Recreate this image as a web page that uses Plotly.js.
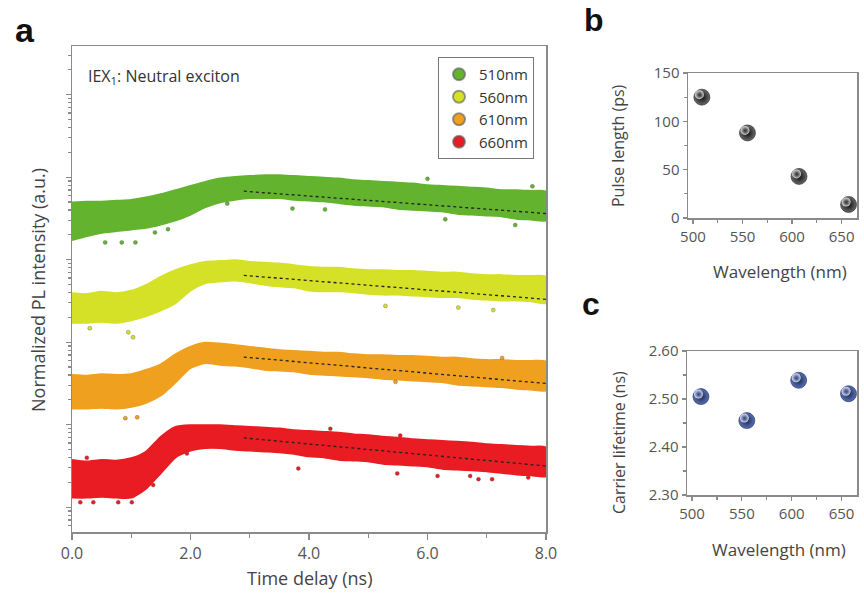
<!DOCTYPE html>
<html><head><meta charset="utf-8">
<script src="https://cdn.plot.ly/plotly-3.0.1.min.js"></script>
<style>html,body{margin:0;padding:0;background:#fff}#chart{width:864px;height:596px}</style>
</head><body><div id="chart"></div>
<script>
// ---------- Panel a data (log10 of normalized PL intensity) ----------
const timeNs = [0,0.25,0.5,0.75,1,1.25,1.5,1.75,2,2.25,2.5,2.75,3,3.25,3.5,3.75,4,4.25,4.5,4.75,5,5.25,5.5,5.75,6,6.25,6.5,6.75,7,7.25,7.5,7.75,8];
const seriesNames = ['510nm','560nm','610nm','660nm'];

const logUpper510 = [3.69,3.70,3.70,3.71,3.72,3.75,3.79,3.84,3.89,3.94,3.98,4.00,4.01,4.02,4.02,4.01,4.00,3.99,3.98,3.96,3.95,3.94,3.93,3.92,3.90,3.89,3.88,3.87,3.86,3.84,3.84,3.83,3.82];
const logLower510 = [3.24,3.29,3.33,3.35,3.37,3.39,3.43,3.48,3.55,3.64,3.70,3.73,3.75,3.75,3.75,3.73,3.72,3.71,3.69,3.67,3.66,3.65,3.62,3.61,3.60,3.59,3.56,3.55,3.54,3.53,3.50,3.49,3.48];
const logUpper560 = [2.59,2.58,2.61,2.59,2.62,2.69,2.79,2.87,2.93,2.97,2.98,2.99,2.97,2.96,2.95,2.93,2.91,2.90,2.90,2.88,2.87,2.87,2.86,2.86,2.85,2.84,2.84,2.82,2.81,2.81,2.80,2.80,2.79];
const logLower560 = [2.24,2.24,2.25,2.24,2.27,2.32,2.39,2.48,2.63,2.72,2.74,2.75,2.73,2.70,2.68,2.67,2.63,2.62,2.62,2.61,2.59,2.58,2.58,2.57,2.56,2.55,2.55,2.53,2.52,2.51,2.51,2.50,2.48];
const logUpper610 = [1.60,1.59,1.61,1.60,1.61,1.66,1.73,1.85,1.94,1.99,1.98,1.96,1.94,1.92,1.90,1.89,1.88,1.87,1.87,1.85,1.84,1.84,1.83,1.83,1.82,1.81,1.81,1.79,1.78,1.78,1.77,1.77,1.76];
const logLower610 = [1.20,1.20,1.21,1.20,1.22,1.27,1.36,1.52,1.69,1.75,1.73,1.72,1.70,1.67,1.66,1.65,1.62,1.61,1.60,1.59,1.58,1.56,1.55,1.54,1.53,1.52,1.49,1.48,1.47,1.46,1.44,1.43,1.42];
const logUpper660 = [0.57,0.55,0.57,0.56,0.59,0.67,0.85,0.97,0.99,0.99,0.99,0.98,0.97,0.96,0.95,0.93,0.92,0.91,0.90,0.88,0.87,0.85,0.84,0.82,0.81,0.80,0.79,0.78,0.76,0.75,0.74,0.73,0.72];
const logLower660 = [0.12,0.12,0.13,0.12,0.12,0.23,0.42,0.61,0.69,0.72,0.72,0.70,0.69,0.68,0.67,0.65,0.62,0.61,0.58,0.57,0.56,0.53,0.52,0.51,0.50,0.47,0.46,0.45,0.44,0.42,0.40,0.39,0.38];

// stray points outside the dense bands
const strayT510 = [0.56,0.84,1.07,1.40,1.62,2.62,3.72,4.27,6.30,7.48,6.00,7.77];
const strayLog510 = [3.21,3.21,3.21,3.33,3.37,3.68,3.62,3.61,3.49,3.42,3.98,3.89];
const strayT560 = [0.30,0.95,1.03,5.29,6.52,7.11];
const strayLog560 = [2.17,2.12,2.06,2.44,2.42,2.39];
const strayT610 = [0.90,1.10,5.46,7.26];
const strayLog610 = [1.08,1.09,1.52,1.81];
const strayT660 = [0.14,0.36,0.78,1.01,1.37,0.25,1.94,3.82,4.36,5.54,5.49,6.17,6.72,6.86,7.09,7.70];
const strayLog660 = [0.06,0.06,0.06,0.06,0.27,0.60,0.65,0.47,0.95,0.87,0.41,0.38,0.38,0.34,0.34,0.36];

// exponential fits (straight on log axis)
const fitTime = [2.9, 8.0];
const fitLog510 = [3.83, 3.56];
const fitLog560 = [2.81, 2.52];
const fitLog610 = [1.82, 1.50];
const fitLog660 = [0.84, 0.50];

// ---------- Panels b and c ----------
const wavelengthNm = [509, 555, 607, 657];
const pulseLengthPs = [125, 88, 43, 14];
const carrierLifetimeNs = [2.505, 2.455, 2.539, 2.511];

// ---------- styling ----------
const colors = ['#63b32f', '#d5e126', '#f0a01f', '#e81c22'];
const FONT = 'Open Sans, Noto Sans, sans-serif';
const AX = '#8a8a8a';
const TXT = '#444';

const pow10 = a => a.map(v => Math.pow(10, v));
const uppers = [logUpper510, logUpper560, logUpper610, logUpper660];
const lowers = [logLower510, logLower560, logLower610, logLower660];
const strayTs = [strayT510, strayT560, strayT610, strayT660];
const strayLs = [strayLog510, strayLog560, strayLog610, strayLog660];
const fits = [fitLog510, fitLog560, fitLog610, fitLog660];

const traces = [];
for (let i = 0; i < 4; i++) {
  const xs = timeNs.concat(timeNs.slice().reverse());
  const ys = pow10(uppers[i]).concat(pow10(lowers[i]).reverse());
  traces.push({x: xs, y: ys, xaxis: 'x', yaxis: 'y', type: 'scatter', mode: 'lines',
    fill: 'toself', fillcolor: colors[i], line: {color: colors[i], width: 2.5, shape: 'spline', smoothing: 0.6},
    showlegend: false, hoverinfo: 'skip'});
}
for (let i = 0; i < 4; i++) {
  traces.push({x: strayTs[i], y: pow10(strayLs[i]), xaxis: 'x', yaxis: 'y', type: 'scatter', mode: 'markers',
    name: seriesNames[i], marker: {color: colors[i], size: 4, line: {width: 0.6, color: 'rgba(90,90,90,0.6)'}},
    showlegend: true});
}
for (let i = 0; i < 4; i++) {
  traces.push({x: fitTime, y: pow10(fits[i]), xaxis: 'x', yaxis: 'y', type: 'scatter', mode: 'lines',
    line: {color: '#222', width: 1.3, dash: '3px,3px'}, showlegend: false});
}
// spheres: body + soft highlight (highlight drawn on overlay axes shifted by a few pixels)
traces.push({x: wavelengthNm, y: pulseLengthPs, xaxis: 'x2', yaxis: 'y2', type: 'scatter', mode: 'markers',
  marker: {size: 16, color: '#6a6a6a', gradient: {type: 'radial', color: '#0a0a0a'}, line: {width: 0.6, color: '#222'}}, showlegend: false});
traces.push({x: wavelengthNm, y: pulseLengthPs, xaxis: 'x4', yaxis: 'y4', type: 'scatter', mode: 'markers',
  marker: {size: 9, color: 'rgba(255,255,255,0.8)', gradient: {type: 'radial', color: 'rgba(160,160,160,0)'}, line: {width: 0}}, showlegend: false});
traces.push({x: wavelengthNm, y: carrierLifetimeNs, xaxis: 'x3', yaxis: 'y3', type: 'scatter', mode: 'markers',
  marker: {size: 16, color: '#5a70b0', gradient: {type: 'radial', color: '#18285a'}, line: {width: 0.6, color: '#1c2c60'}}, showlegend: false});
traces.push({x: wavelengthNm, y: carrierLifetimeNs, xaxis: 'x5', yaxis: 'y5', type: 'scatter', mode: 'markers',
  marker: {size: 9, color: 'rgba(255,255,255,0.8)', gradient: {type: 'radial', color: 'rgba(170,185,230,0)'}, line: {width: 0}}, showlegend: false});

const W = 864, H = 596;
const px = v => v / W, py = v => 1 - v / H;

const tickFont = {family: FONT, size: 15, color: '#555'};
const baseAxis = {showgrid: false, zeroline: false, showline: true, linecolor: AX, linewidth: 1.5,
  mirror: true, ticks: 'outside', tickcolor: AX, tickwidth: 1.2, tickfont: tickFont};
const hidden = {visible: false, showgrid: false, zeroline: false};

const ann = (text, x, y, size, extra) => Object.assign({text: text, x: px(x), y: py(y), xref: 'paper', yref: 'paper',
  xanchor: 'center', yanchor: 'middle', showarrow: false, font: {family: FONT, size: size, color: TXT}}, extra || {});

const layout = {
  width: W, height: H, margin: {l: 0, r: 0, t: 0, b: 0},
  paper_bgcolor: '#fff', plot_bgcolor: '#fff', font: {family: FONT, color: TXT},
  xaxis: Object.assign({}, baseAxis, {domain: [px(72), px(546)], anchor: 'y', range: [0, 8],
    dtick: 2, tick0: 0, tickformat: '.1f', ticklen: 6, tickfont: {family: FONT, size: 16, color: '#555'},
    minor: {ticks: 'outside', dtick: 1, ticklen: 4, tickcolor: AX}}),
  yaxis: Object.assign({}, baseAxis, {domain: [py(532), py(46)], anchor: 'x', type: 'log',
    range: [-0.30, 5.59], dtick: 1, ticklen: 5, showticklabels: false,
    minor: {ticks: 'outside', dtick: 'D1', ticklen: 3, tickcolor: AX}}),
  xaxis2: Object.assign({}, baseAxis, {domain: [px(688), px(857)], anchor: 'y2', range: [495, 665.5],
    dtick: 50, tick0: 500, ticklen: 4, minor: {ticks: 'outside', dtick: 25, ticklen: 3, tickcolor: AX}}),
  yaxis2: Object.assign({}, baseAxis, {domain: [py(218), py(73)], anchor: 'x2', range: [0, 150],
    dtick: 50, ticklen: 4, minor: {ticks: 'outside', dtick: 25, ticklen: 3, tickcolor: AX}}),
  xaxis3: Object.assign({}, baseAxis, {domain: [px(687), px(857)], anchor: 'y3', range: [495, 665.5],
    dtick: 50, tick0: 500, ticklen: 4, minor: {ticks: 'outside', dtick: 25, ticklen: 3, tickcolor: AX}}),
  yaxis3: Object.assign({}, baseAxis, {domain: [py(495), py(351)], anchor: 'x3', range: [2.30, 2.60],
    dtick: 0.1, tickformat: '.2f', ticklen: 4, minor: {ticks: 'outside', dtick: 0.05, ticklen: 3, tickcolor: AX}}),
  xaxis4: Object.assign({}, hidden, {overlaying: 'x2', anchor: 'y4', range: [497.5, 668.0]}),
  yaxis4: Object.assign({}, hidden, {overlaying: 'y2', anchor: 'x4', range: [-2.6, 147.4]}),
  xaxis5: Object.assign({}, hidden, {overlaying: 'x3', anchor: 'y5', range: [497.5, 668.0]}),
  yaxis5: Object.assign({}, hidden, {overlaying: 'y3', anchor: 'x5', range: [2.2948, 2.5948]}),
  legend: {x: px(438), y: py(57), xanchor: 'left', yanchor: 'top', bgcolor: '#fff',
    bordercolor: '#777', borderwidth: 1, itemsizing: 'constant', font: {family: FONT, size: 15, color: '#333'},
    tracegroupgap: 0, itemwidth: 30},
  annotations: [
    ann('<b>a</b>', 25, 30, 34, {font: {family: 'Liberation Sans, Arial, sans-serif', size: 34, color: '#111'}}),
    ann('<b>b</b>', 594, 20, 32, {font: {family: 'Liberation Sans, Arial, sans-serif', size: 32, color: '#111'}}),
    ann('<b>c</b>', 591, 304, 32, {font: {family: 'Liberation Sans, Arial, sans-serif', size: 32, color: '#111'}}),
    ann('IEX<sub>1</sub>: Neutral exciton', 86, 76, 16, {xanchor: 'left', font: {family: FONT, size: 16, color: '#333'}}),
    ann('Normalized PL intensity (a.u.)', 38, 290, 18, {textangle: -90}),
    ann('Time delay (ns)', 310, 578, 18),
    ann('Pulse length (ps)', 618, 146, 16, {textangle: -90}),
    ann('Wavelength (nm)', 780, 271, 17),
    ann('Carrier lifetime (ns)', 619, 443, 16, {textangle: -90}),
    ann('Wavelength (nm)', 779, 549, 17)
  ]
};

Plotly.newPlot('chart', traces, layout, {staticPlot: true, displayModeBar: false});
</script></body></html>
